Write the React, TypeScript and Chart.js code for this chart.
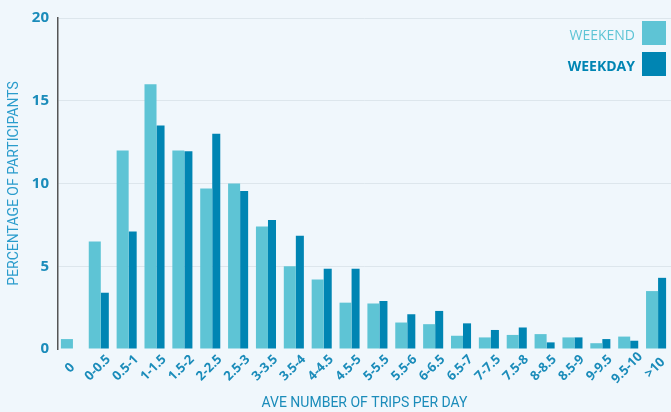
import React, { useEffect, useRef } from "react";
import { Chart, registerables } from "chart.js";

Chart.register(...registerables);

const categories = [
  "0", "0-0.5", "0.5-1", "1-1.5", "1.5-2", "2-2.5", "2.5-3", "3-3.5", "3.5-4", "4-4.5", "4.5-5",
  "5-5.5", "5.5-6", "6-6.5", "6.5-7", "7-7.5", "7.5-8", "8-8.5", "8.5-9", "9-9.5", "9.5-10", ">10",
];
const weekend = [0.6, 6.5, 12, 16, 12, 9.7, 10, 7.4, 5, 4.2, 2.8, 2.75, 1.6, 1.5, 0.8, 0.7, 0.85, 0.9, 0.7, 0.35, 0.75, 3.5];
const weekday = [0, 3.4, 7.1, 13.5, 11.95, 13, 9.55, 7.8, 6.85, 4.85, 4.85, 2.9, 2.1, 2.3, 1.55, 1.15, 1.3, 0.4, 0.7, 0.6, 0.5, 4.3];
const yTicks = [0, 5, 10, 15, 20];
const seriesNames = ["WEEKEND", "WEEKDAY"];

const WEEKEND_COLOR = "#5ec4d5";
const WEEKDAY_COLOR = "#0085b3";
const TEXT_BLUE = "#1b8cba";
const BG = "#f0f7fc";

const bgPlugin = {
  id: "bg",
  beforeDraw(chart: any) {
    const { ctx, width, height } = chart;
    ctx.save();
    ctx.fillStyle = BG;
    ctx.fillRect(0, 0, width, height);
    ctx.restore();
  },
};

// centred, rotated category labels (reference centres them under each group)
const xLabelPlugin = {
  id: "xLabels",
  afterDraw(chart: any) {
    const { ctx } = chart;
    const xs = chart.scales.x;
    const labels = chart.data.labels as string[];
    ctx.save();
    ctx.fillStyle = TEXT_BLUE;
    ctx.font = "bold 13px 'Open Sans', sans-serif";
    ctx.textAlign = "center";
    ctx.textBaseline = "middle";
    labels.forEach((lab, i) => {
      const x = xs.getPixelForValue(i) - 2;
      const y = xs.top + 19;
      ctx.save();
      ctx.translate(x, y);
      ctx.rotate(-Math.PI / 4);
      ctx.fillText(lab, 0, 0);
      ctx.restore();
    });
    ctx.restore();
  },
};

const legendPlugin = {
  id: "customLegend",
  afterDraw(chart: any) {
    const { ctx } = chart;
    const ds = chart.data.datasets;
    ctx.save();
    ds.forEach((d: any, i: number) => {
      const boxX = 642;
      const boxY = 21 + i * 31;
      ctx.fillStyle = d.backgroundColor;
      ctx.fillRect(boxX, boxY, 24, 24);
      ctx.font = (i === 1 ? "bold " : "") + "14px 'Open Sans', sans-serif";
      ctx.textAlign = "right";
      ctx.textBaseline = "middle";
      ctx.fillText(d.label, 635, boxY + 15);
    });
    ctx.restore();
  },
};

export default function App() {
  const ref = useRef<HTMLCanvasElement>(null);
  useEffect(() => {
    if (!ref.current) return;
    const chart = new Chart(ref.current, {
      type: "bar",
      data: {
        labels: categories,
        datasets: [
          {
            label: seriesNames[0],
            data: weekend,
            backgroundColor: WEEKEND_COLOR,
            barPercentage: 1.2,
            categoryPercentage: 0.72,
          },
          {
            label: seriesNames[1],
            data: weekday,
            backgroundColor: WEEKDAY_COLOR,
            barPercentage: 0.8,
            categoryPercentage: 0.72,
          },
        ],
      },
      options: {
        animation: false,
        responsive: false,
        maintainAspectRatio: false,
        layout: { padding: { top: 16, right: 0, left: 0, bottom: 0 } },
        plugins: {
          legend: { display: false },
          tooltip: { enabled: false },
        },
        scales: {
          x: {
            grid: { display: false, drawTicks: false },
            border: { display: false },
            ticks: { display: false, autoSkip: false },
            title: {
              display: true,
              text: "AVE NUMBER OF TRIPS PER DAY",
              color: TEXT_BLUE,
              font: { family: "Roboto, sans-serif", size: 14 },
              padding: { top: 0, bottom: 0 },
            },
            afterFit(scale: any) {
              scale.height = 63;
            },
          },
          y: {
            min: 0,
            max: 20,
            afterBuildTicks(scale: any) {
              scale.ticks = yTicks.map((v) => ({ value: v }));
            },
            grid: {
              drawTicks: false,
              color: (c: any) => (c.tick && c.tick.value === 0 ? "rgba(0,0,0,0)" : "#dde6ec"),
              lineWidth: 1,
            },
            border: { display: true, color: "#555", width: 1.5 },
            ticks: {
              color: TEXT_BLUE,
              font: { family: "'Open Sans', sans-serif", size: 15, weight: "bold" },
              padding: 9,
            },
            title: {
              display: true,
              text: "PERCENTAGE OF PARTICIPANTS",
              color: "#2a9ccc",
              font: { family: "Roboto, sans-serif", size: 14 },
              padding: { top: 6, bottom: 0 },
            },
            afterFit(scale: any) {
              scale.width = 58;
            },
          },
        },
      },
      plugins: [bgPlugin, xLabelPlugin, legendPlugin],
    });
    return () => chart.destroy();
  }, []);
  return (
    <div style={{ position: "fixed", left: 0, top: 0, width: 671, height: 412, background: BG }}>
      <canvas ref={ref} width={671} height={412} style={{ display: "block" }} />
    </div>
  );
}
